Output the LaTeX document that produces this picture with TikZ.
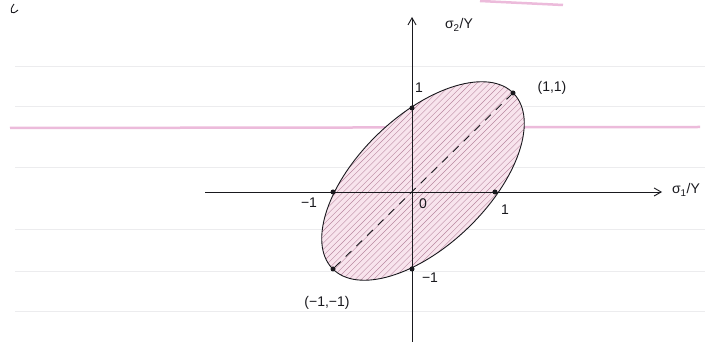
\documentclass[tikz,border=0pt]{standalone}
\usepackage{fontspec}
\setmainfont{Liberation Sans}
\usetikzlibrary{arrows.meta}
\definecolor{paperline}{RGB}{236,236,238}
\definecolor{hilite}{RGB}{232,170,210}
\definecolor{ellfill}{RGB}{248,228,237}
\definecolor{hatchc}{RGB}{185,135,160}
\definecolor{ink}{RGB}{25,25,30}
\tikzset{
  ruled/.style={paperline, line width=0.9},
  axisline/.style={ink, line width=0.9, -{Straight Barb[length=7,width=8]}},
  dotpt/.style={circle, fill=ink, inner sep=0pt, minimum size=5},
  lbl/.style={ink, font=\fontsize{14}{16}\selectfont, inner sep=1pt},
}
\begin{document}
\begin{tikzpicture}[x=1pt,y=1pt]
\useasboundingbox (0,0) rectangle (710,356);
\fill[white] (0,0) rectangle (710,356);
% ruled paper
\foreach \yy in {290,250,189,127,85,45} {\draw[ruled] (15,\yy) -- (705,\yy);}
\draw[hilite, line width=2.5, opacity=0.8] (10,228) -- (700,229);
\draw[hilite, line width=2.5, opacity=0.8] (480,355) -- (563,351);
% fragment of handwriting top-left
\draw[ink, line width=0.9] (14,352) .. controls (8,344) and (12,340) .. (18,346);

% ellipse
\coordinate (C) at (423,175);
\fill[ellfill, rotate around={44:(C)}] (C) ellipse [x radius=126, y radius=65];
\begin{scope}
\clip[rotate around={44:(C)}] (C) ellipse [x radius=126, y radius=65];
\foreach \k in {-60,...,60} {\draw[hatchc, line width=0.4] (300+\k*6.2,40) -- ++(250,250);}
\end{scope}
\draw[ink, line width=0.9, rotate around={44:(C)}] (C) ellipse [x radius=126, y radius=65];

% axes
\coordinate (xs) at (205,164);
\coordinate (xe) at (662,164);
\coordinate (ys) at (412,14);
\coordinate (ye) at (412,339);
\draw[axisline] (xs) -- (xe);
\draw[axisline] (ys) -- (ye);

% points
\node[dotpt] (p01) at (412,248) {};
\node[dotpt] (p10) at (495,164) {};
\node[dotpt] (pm10) at (333,164) {};
\node[dotpt] (p0m1) at (412,87) {};
\node[dotpt] (p11) at (513,263) {};
\node[dotpt] (pm1m1) at (333,87) {};
\draw[ink, line width=0.9, dash pattern=on 8pt off 7pt] (pm1m1) -- (p11);

% labels
\node[lbl] (ly) at (459,331) {σ\textsubscript{2}/Y};
\node[lbl] (lx) at (686,166) {σ\textsubscript{1}/Y};
\node[lbl] (l1y) at (419,268) {1};
\node[lbl] (l11) at (552,268) {(1,1)};
\node[lbl] (lm1x) at (309,153) {−1};
\node[lbl] (l0) at (423,152) {0};
\node[lbl] (l1x) at (505,146) {1};
\node[lbl] (lm1y) at (430,78) {−1};
\node[lbl] (lm1m1) at (327,53) {(−1,−1)};
\end{tikzpicture}
\end{document}
